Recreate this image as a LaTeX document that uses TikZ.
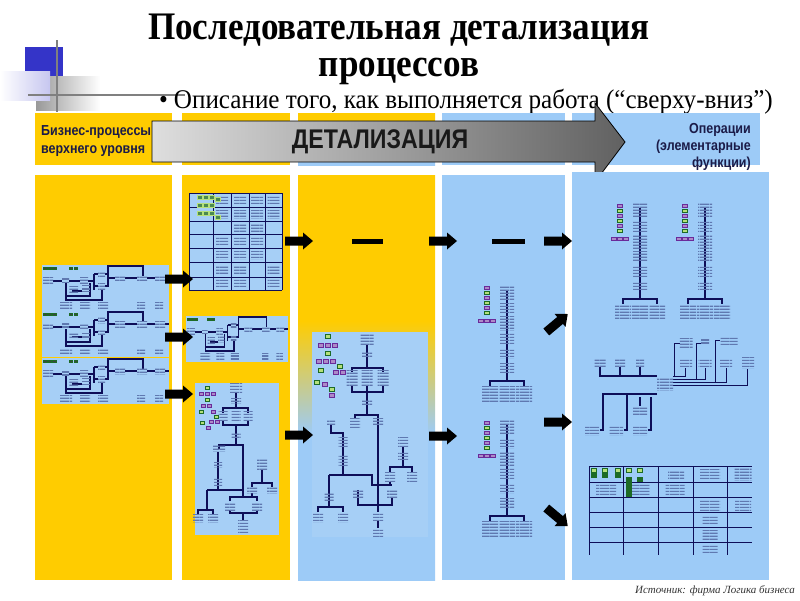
\documentclass[tikz,border=0pt]{standalone}
\usepackage{fontspec}
\setmainfont{Liberation Serif}
\newfontfamily\titlefont[FakeStretch=0.9]{Liberation Serif}
\newfontfamily\leadfont[FakeStretch=0.93]{Liberation Serif}
\newfontfamily\labelfont[FakeStretch=0.86]{Liberation Sans}
\usetikzlibrary{positioning, patterns}

\definecolor{gold}{HTML}{FFCC00}
\definecolor{skyband}{HTML}{9DCBF7}
\definecolor{panelblue}{HTML}{A6CFF6}
\definecolor{navy}{HTML}{0E0E58}
\definecolor{blobc}{HTML}{5F78B0}
\definecolor{icongreen}{HTML}{1D6B25}
\definecolor{iconlime}{HTML}{B5E07A}
\definecolor{iconpurple}{HTML}{6A2A9A}
\definecolor{capnavy}{HTML}{1B1B48}
\definecolor{decoblue}{HTML}{3434C8}

\pgfdeclareverticalshading{colfade}{100bp}{color(0bp)=(skyband); color(43bp)=(skyband); color(57bp)=(gold); color(100bp)=(gold)}
\pgfdeclarepatternformonly{textrows}{\pgfpointorigin}{\pgfpoint{10pt}{3.2pt}}{\pgfpoint{10pt}{3.2pt}}{\pgfpathrectangle{\pgfpointorigin}{\pgfpoint{10pt}{1.5pt}}\pgfusepath{fill}}

\tikzstyle{treeline} = [draw=navy, line width=1.1pt]
\tikzstyle{gridline} = [draw=navy, line width=1pt]
\tikzstyle{smalltext} = [pattern=textrows, pattern color=blobc]
\tikzstyle{gicon} = [fill=iconlime, draw=icongreen, line width=0.6pt]
\tikzstyle{picon} = [fill=iconpurple!55, draw=iconpurple, line width=0.6pt]
\tikzstyle{headtxt} = [inner sep=0, text=capnavy, font=\labelfont\bfseries\fontsize{14.5}{17}\selectfont]

\tikzset{
  blkarrow/.pic={\fill[black] (-14,-4.5) -- (4,-4.5) -- (4,-8.5) -- (14,0) -- (4,8.5) -- (4,4.5) -- (-14,4.5) -- cycle;},
  procflow/.pic={
    \fill[panelblue] (0,0) rectangle (127,46);
    \foreach \ix in {1.5,6,10.5,27,32}
      \filldraw[fill=black!75, draw=icongreen, line width=0.6pt] (\ix,2) rectangle ++(3.5,2.5);
    \draw[treeline] (11,16) -- (20,16) (27,16) -- (38,16) (46,16) -- (52,16)
      (52,9) -- (52,25) (52,9) -- (56,9) (52,21) -- (56,21)
      (63,9) -- (66,9) -- (66,21) -- (63,21) (66,13) -- (73,13)
      (66,9) -- (66,1) -- (101,1) -- (101,11)
      (83,13) -- (95,13) (105,13) -- (113,13) (123,13) -- (127,13)
      (24,18) -- (24,35) -- (60,35) -- (60,24)
      (24,31) -- (48,31) -- (48,18) (30,26) -- (40,26);
    \foreach \bx/\by/\bw in {1/12/10, 20/12/7, 38/12/8, 56/6/7, 56/18/7, 73/10/10, 95/10/10, 113/10/10, 27/21/9, 40/20/8, 18/37/12, 38/37/10, 56/37/10, 95/37/8, 113/37/8}
      \fill[smalltext] (\bx,\by) rectangle ++(\bw,6.5);
  },
  chaintree/.pic={
    \draw[treeline] (0,5) -- (0,96) (-17,101) -- (-17,96) -- (17,96) -- (17,101);
    \foreach \by/\bh in {0/14, 18/10, 31/14, 48/10, 63/10, 78/9}
      \fill[smalltext] (-7,\by) rectangle ++(14,\bh);
    \foreach \bx in {-17,0,17}
      \fill[smalltext] (\bx-8,101) rectangle ++(16,15);
    \foreach \iy/\ic in {1/picon, 6/gicon, 11/picon, 16/gicon, 21/picon, 26/gicon}
      \filldraw[\ic] (-23,\iy) rectangle ++(5,3.5);
    \foreach \ix in {-29,-23,-17}
      \filldraw[picon] (\ix,34) rectangle ++(5,3.5);
  }
}

\begin{document}
\begin{tikzpicture}[x=1pt, y=-1pt]
\useasboundingbox (0,0) rectangle (800,600);

% Corner decoration
\fill[decoblue] (25,47) rectangle (63,77);
\shade[left color=black!40, right color=white] (36,76) rectangle (100,110);
\shade[left color=white, right color=decoblue!28] (0,71) rectangle (50,100);
\draw[black!50, line width=1.2pt] (57,40) -- (57,112) (28,95) -- (185,95);

% Title
\node[font=\titlefont\bfseries\fontsize{39}{42}\selectfont] (title1) at (399,30) {Последовательная детализация};
\node[font=\titlefont\bfseries\fontsize{39}{42}\selectfont] (title2) at (399,71) {процессов};
\node[anchor=base west, inner sep=0, font=\leadfont\fontsize{27}{30}\selectfont] (subtitle) at (159,108) {\textbullet\hspace{6pt}Описание того, как выполняется работа (“сверху-вниз”)};

% Header bands
\fill[gold] (35,113) rectangle (172,165);
\fill[gold] (182,113) rectangle (290,165);
\shade[shading=colfade] (298,113) rectangle (435,165);
\fill[skyband] (442,113) rectangle (565,165);
\fill[skyband] (572,113) rectangle (760,165);
\node[headtxt, anchor=base west] (biz1) at (41,135) {Бизнес-процессы};
\node[headtxt, anchor=base west] (biz2) at (41,153) {верхнего уровня};
\node[headtxt, anchor=base east] (oper1) at (751,133) {Операции};
\node[headtxt, anchor=base east] (oper2) at (751,150) {(элементарные};
\node[headtxt, anchor=base east] (oper3) at (751,167) {функции)};

% Big arrow
\shade[left color=black!13, right color=black!62, draw=black, line width=0.8pt] (152,121) -- (595,121) -- (595,103) -- (625,142) -- (595,182) -- (595,162) -- (152,162) -- cycle;
\node[font=\labelfont\bfseries\fontsize{27}{30}\selectfont, text=black!90] (detal) at (380,142) {ДЕТАЛИЗАЦИЯ};

% Column bodies
\fill[gold] (35,175) rectangle (172,580);
\fill[gold] (182,175) rectangle (290,580);
\shade[shading=colfade] (298,175) rectangle (435,580);
\fill[skyband] (442,175) rectangle (565,580);
\fill[skyband] (572,172) rectangle (769,580);

% Column 1: top level processes
\pic at (42,265) {procflow};
\pic at (42,311) {procflow};
\pic at (42,358) {procflow};

% Column 2: matrix
\fill[panelblue] (189,193) rectangle (282,290);
\foreach \gx in {189,213,231,249,265,282} \draw[gridline] (\gx,193) -- (\gx,290);
\foreach \gy in {193,207,221,234,248,262,277,290} \draw[gridline] (189,\gy) -- (282,\gy);
\foreach \cx/\cy in {222/200, 240/200, 257/200, 273.5/200, 222/214, 240/214, 257/214, 273.5/214, 240/227.5, 257/227.5, 222/241, 240/241, 257/241, 222/255, 240/255, 257/255, 222/269.5, 240/269.5, 273.5/269.5, 222/283.5, 240/283.5, 273.5/283.5}
  \fill[smalltext] (\cx-6,\cy-4) rectangle (\cx+6,\cy+4);
\foreach \ix in {197,203,209} \foreach \iy in {195,203,211}
  \filldraw[fill=icongreen!80, draw=iconlime, line width=0.6pt] (\ix,\iy) rectangle ++(5,4);
\filldraw[fill=icongreen!80, draw=iconlime, line width=0.6pt] (215,197) rectangle ++(5,4) (215,215) rectangle ++(5,4);

% Column 2: flow and tree
\pic[xscale=0.8] at (186,316) {procflow};
\fill[panelblue] (195,383) rectangle (279,535);
\draw[treeline] (236,392) -- (236,408) (223,413) -- (223,408) -- (248,408) -- (248,413)
  (223,420) -- (223,425) -- (248,425) -- (248,420) (236,425) -- (236,445)
  (219,449) -- (219,445) -- (243,445) -- (243,497)
  (218,452) -- (218,490) (207,490) -- (243,490)
  (207,490) -- (207,510) (198,514) -- (198,510) -- (213,510) -- (213,514)
  (262,470) -- (262,483) (252,487) -- (252,483) -- (272,483) -- (272,487) (252,493) -- (252,497)
  (230,501) -- (230,497) -- (257,497) -- (257,501)
  (230,510) -- (230,513) -- (257,513) -- (257,510) (243,513) -- (243,520);
\foreach \bx/\by/\bw/\bh in {236/383/12/9, 236/398/10/5, 223/411/9/9, 236/411/9/9, 248/411/9/9, 236/432/9/5, 219/445/12/6, 218/462/8/5, 218/478/8/7, 262/458/10/12, 252/487/10/6, 272/487/10/6, 230/503/10/7, 257/503/10/7, 198/514/10/8, 213/514/10/8, 243/520/10/12}
  \fill[smalltext] (\bx-\bw/2,\by) rectangle ++(\bw,\bh);
\foreach \ix/\iy/\ic in {205/386/gicon, 199/392/picon, 205/392/picon, 211/392/picon, 205/398/gicon, 201/404/picon, 207/404/picon, 199/410/gicon, 211/410/picon, 214/415/gicon, 209/420/picon, 215/420/picon, 200/421/gicon, 206/426/picon}
  \filldraw[\ic] (\ix,\iy) rectangle ++(4.5,3.5);

% Column 3: tree
\fill[panelblue] (312,332) rectangle (428,537);
\draw[treeline] (367,345) -- (367,368) (352,372) -- (352,368) -- (383,368) -- (383,372)
  (352,385) -- (352,392) -- (383,392) -- (383,385) (367,385) -- (367,415)
  (355,418) -- (355,415) -- (378,415) -- (378,505)
  (331,425) -- (331,433) -- (343,433) -- (343,475) (329,475) -- (372,475) -- (372,485) -- (392,485)
  (403,447) -- (403,467) (390,472) -- (390,467) -- (412,467) -- (412,472) (390,482) -- (390,485)
  (358,490) -- (358,505) -- (392,505) -- (392,497) (378,505) -- (378,512) (378,520) -- (378,528)
  (329,475) -- (329,507) (318,512) -- (318,507) -- (343,507) -- (343,512);
\foreach \bx/\by/\bw/\bh in {367/333/13/12, 367/351/10/5, 352/370/11/15, 367/370/11/15, 383/370/11/15, 367/399/10/5, 355/418/10/10, 378/418/10/7, 331/419/8/6, 343/437/9/10, 343/455/9/10, 403/437/10/10, 403/451/10/9, 390/472/10/10, 412/472/10/10, 358/490/10/7, 392/490/10/7, 378/512/10/8, 378/528/10/8, 329/492/9/8, 318/512/10/10, 343/512/10/10}
  \fill[smalltext] (\bx-\bw/2,\by) rectangle ++(\bw,\bh);
\foreach \ix/\iy/\ic in {325/334/gicon, 318/343/picon, 325/343/picon, 332/343/picon, 325/351/gicon, 316/359/picon, 323/359/picon, 330/359/picon, 337/364/gicon, 318/368/gicon, 333/370/picon, 340/370/picon, 314/380/gicon, 322/382/picon, 329/387/gicon, 329/393/picon}
  \filldraw[\ic] (\ix,\iy) rectangle ++(5.5,4);

% Column 4: chains
\pic at (507,285) {chaintree};
\pic at (507,420) {chaintree};

% Column 5: chains, structure, table
\pic at (640,203) {chaintree};
\pic at (705,203) {chaintree};
\draw[treeline] (600,367) -- (600,376) -- (657,376) (620,367) -- (620,376) (640,367) -- (640,376)
  (657,394) -- (603,394) -- (603,430) -- (600,430) (627,394) -- (627,430) -- (624,430)
  (651,397) -- (651,430) -- (648,430) (640,397) -- (640,406);
\draw[navy, line width=0.9pt] (673,376) -- (685,376) -- (685,368) (674,376) -- (674,343) -- (680,343)
  (673,379) -- (705,379) -- (705,368) (696,379) -- (696,343) -- (701,343)
  (673,382) -- (726,382) -- (726,368) (715,382) -- (715,340) -- (720,340)
  (673,385) -- (747,385) -- (747,369);
\foreach \bx/\by/\bw/\bh in {665/378/16/12, 600/359/11/7, 620/359/10/7, 640/359/8/7, 592/425/14/10, 616/425/14/10, 640/425/14/10, 640/407/14/7, 686/338/13/9, 705/339/8/6, 729/336/17/9, 686/358/12/9, 705/358/13/9, 726/358/12/9, 748/357/12/11}
  \fill[smalltext] (\bx-\bw/2,\by) rectangle ++(\bw,\bh);
\foreach \gx in {589,623,658,693,727} \draw[gridline] (\gx,466) -- (\gx,555);
\foreach \gy in {466,482,497.5,512.5,527,542} \draw[gridline] (589,\gy) -- (752,\gy);
\foreach \bx/\by/\bw/\bh in {676/471/16/7, 710/469/20/10, 743/467/17/13, 606/484/20/10, 640/484/19/10, 675/484/19/10, 710/499/20/11, 743/499/16/11, 710/515/15/9, 710/530/15/9, 710/544/15/9}
  \fill[smalltext] (\bx-\bw/2,\by) rectangle ++(\bw,\bh);
\foreach \ix in {591,602,615,626,637} \filldraw[gicon] (\ix,468) rectangle ++(5,4);
\foreach \ix in {591,602,615} \filldraw[gicon, fill=icongreen] (\ix,473) rectangle ++(5,4);
\foreach \iy in {477,482,487,492} \filldraw[gicon, fill=icongreen] (626,\iy) rectangle ++(5,4);
\filldraw[gicon, fill=icongreen] (637,477) rectangle ++(5,4);

% Block arrows between columns
\pic at (179,279) {blkarrow};
\pic at (179,337) {blkarrow};
\pic at (179,394) {blkarrow};
\pic at (299,241) {blkarrow};
\pic at (299,435) {blkarrow};
\fill[black] (352,239) rectangle (383,243.5);
\pic at (443,241) {blkarrow};
\pic at (443,436) {blkarrow};
\fill[black] (492,239) rectangle (525,243.5);
\pic at (558,241) {blkarrow};
\pic[rotate=40] at (557,323) {blkarrow};
\pic at (558,422) {blkarrow};
\pic[rotate=-40] at (557,517) {blkarrow};

% Source
\node[anchor=base east, inner sep=0, font=\itshape\fontsize{11}{12}\selectfont, text=black!80] (source) at (795,593) {Источник: фирма Логика бизнеса};
\end{tikzpicture}
\end{document}
